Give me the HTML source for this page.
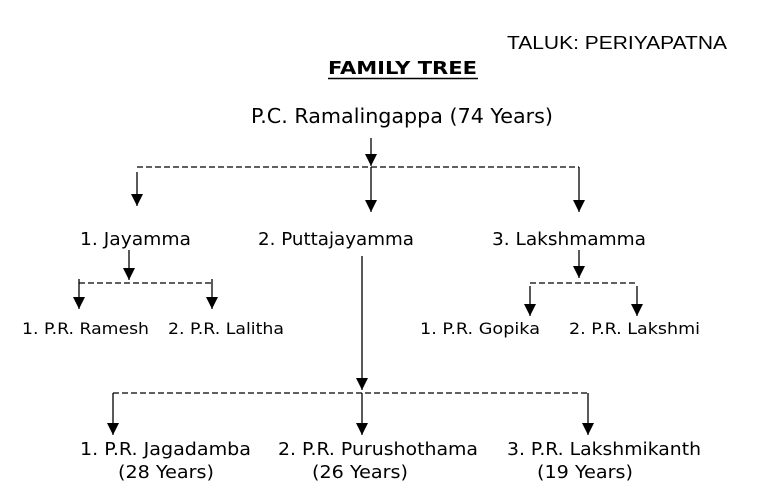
<!DOCTYPE html>
<html><head><meta charset="utf-8"><style>
html,body{margin:0;padding:0;background:#fff;}
svg{display:block;}
text{font-family:"DejaVu Sans","Liberation Sans",sans-serif;fill:#000;}
</style></head><body>
<svg width="757" height="502" viewBox="0 0 757 502" xmlns="http://www.w3.org/2000/svg">
<defs>
<marker id="a" markerWidth="12" markerHeight="12" refX="10" refY="5" orient="auto" markerUnits="userSpaceOnUse" viewBox="0 0 10 10">
<path d="M0,0 L10,5 L0,10 z" fill="#000"/>
</marker>
</defs>
<text x="507" y="49" font-size="18" textLength="220" lengthAdjust="spacingAndGlyphs" style="font-family:'Liberation Sans',sans-serif">TALUK: PERIYAPATNA</text>
<text x="328" y="74" font-size="18" font-weight="bold" textLength="149" lengthAdjust="spacingAndGlyphs">FAMILY TREE</text>
<line x1="328" y1="78.5" x2="478" y2="78.5" stroke="#000" stroke-width="1.6"/>
<text x="251" y="123" font-size="20" textLength="302" lengthAdjust="spacingAndGlyphs">P.C. Ramalingappa (74 Years)</text>

<g stroke="#000" stroke-width="1.3" fill="none">
<line x1="371" y1="138" x2="371" y2="166" marker-end="url(#a)"/>
<line x1="137" y1="167" x2="579" y2="167" stroke-dasharray="6,3"/>
<line x1="137" y1="172" x2="137" y2="206" marker-end="url(#a)"/>
<line x1="371" y1="167" x2="371" y2="212" marker-end="url(#a)"/>
<line x1="579" y1="167" x2="579" y2="212" marker-end="url(#a)"/>

<line x1="129" y1="250" x2="129" y2="280" marker-end="url(#a)"/>
<line x1="79" y1="283" x2="212" y2="283" stroke-dasharray="6,3"/>
<line x1="79" y1="279" x2="79" y2="309" marker-end="url(#a)"/>
<line x1="212" y1="279" x2="212" y2="309" marker-end="url(#a)"/>

<line x1="579" y1="250" x2="579" y2="278" marker-end="url(#a)"/>
<line x1="530" y1="283" x2="636" y2="283" stroke-dasharray="6,3"/>
<line x1="530" y1="286" x2="530" y2="316" marker-end="url(#a)"/>
<line x1="637" y1="286" x2="637" y2="316" marker-end="url(#a)"/>

<line x1="362" y1="256" x2="362" y2="390" marker-end="url(#a)"/>
<line x1="113" y1="393" x2="590" y2="393" stroke-dasharray="6,3"/>
<line x1="113" y1="393" x2="113" y2="435" marker-end="url(#a)"/>
<line x1="362" y1="393" x2="362" y2="435" marker-end="url(#a)"/>
<line x1="588" y1="393" x2="588" y2="435" marker-end="url(#a)"/>
</g>

<g font-size="18">
<text x="80" y="245" textLength="111" lengthAdjust="spacingAndGlyphs">1. Jayamma</text>
<text x="258" y="245" textLength="156" lengthAdjust="spacingAndGlyphs">2. Puttajayamma</text>
<text x="492" y="245" textLength="154" lengthAdjust="spacingAndGlyphs">3. Lakshmamma</text>
</g>
<g font-size="16">
<text x="22" y="334" textLength="127" lengthAdjust="spacingAndGlyphs">1. P.R. Ramesh</text>
<text x="168" y="334" textLength="116" lengthAdjust="spacingAndGlyphs">2. P.R. Lalitha</text>
<text x="420" y="334" textLength="120" lengthAdjust="spacingAndGlyphs">1. P.R. Gopika</text>
<text x="569" y="334" textLength="131" lengthAdjust="spacingAndGlyphs">2. P.R. Lakshmi</text>
</g>
<g font-size="18">
<text x="80" y="455" textLength="171" lengthAdjust="spacingAndGlyphs">1. P.R. Jagadamba</text>
<text x="278" y="455" textLength="200" lengthAdjust="spacingAndGlyphs">2. P.R. Purushothama</text>
<text x="507" y="455" textLength="194" lengthAdjust="spacingAndGlyphs">3. P.R. Lakshmikanth</text>
<text x="118" y="478" textLength="96" lengthAdjust="spacingAndGlyphs">(28 Years)</text>
<text x="312" y="478" textLength="96" lengthAdjust="spacingAndGlyphs">(26 Years)</text>
<text x="537" y="478" textLength="96" lengthAdjust="spacingAndGlyphs">(19 Years)</text>
</g>
</svg>
</body></html>
